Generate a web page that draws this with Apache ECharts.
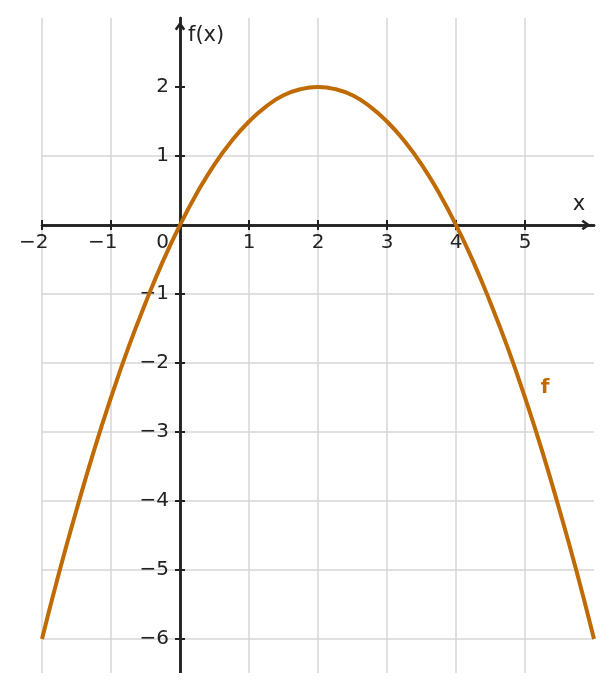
<!DOCTYPE html>
<html>
<head>
<meta charset="utf-8">
<script src="https://cdn.jsdelivr.net/npm/echarts@6/dist/echarts.min.js"></script>
<style>
  html, body { margin: 0; padding: 0; background: #fff; }
  #chart { width: 612px; height: 692px; }
</style>
</head>
<body>
<div id="chart"></div>
<script>
const xs = [-2, -1.75, -1.5, -1.25, -1, -0.75, -0.5, -0.25, 0, 0.25, 0.5, 0.75, 1, 1.25, 1.5, 1.75, 2,
  2.25, 2.5, 2.75, 3, 3.25, 3.5, 3.75, 4, 4.25, 4.5, 4.75, 5, 5.25, 5.5, 5.75, 6];
const fy = [-6, -5.03, -4.13, -3.28, -2.5, -1.78, -1.13, -0.53, 0, 0.47, 0.88, 1.22, 1.5, 1.72, 1.88, 1.97, 2,
  1.97, 1.88, 1.72, 1.5, 1.22, 0.88, 0.47, 0, -0.53, -1.13, -1.78, -2.5, -3.28, -4.13, -5.03, -6];

const xTicks = [-2, -1, 0, 1, 2, 3, 4, 5];
const yTicks = [-6, -5, -4, -3, -2, -1, 0, 1, 2];
const yLabels = [-6, -5, -4, -3, -2, -1, 1, 2];
const fLabelAt = [5.29, -2.36];

const ink = '#222222';
const curveColor = '#bf6a02';
const font = 'DejaVu Sans';
const arrow = 'path://M0,7 L5,0 L10,7 L8,8.5 L5,4 L2,8.5 Z';

// axes cross at the origin: shift them in from the grid edges
const xAxisShift = -483;
const yAxisShift = -138;

function xFmt(v) {
  if (v < 0) return '−' + (-v) + '{p|−}';
  if (v === 0) return '{z|0}';
  return String(v);
}
function yFmt(v) {
  return v < 0 ? '−' + (-v) : String(v);
}

const tickStyle = { color: ink, width: 2 };
const lineStyle = { color: ink, width: 2.5 };

const chart = echarts.init(document.getElementById('chart'));
chart.setOption({
  animation: false,
  grid: { left: 42, right: 18, top: 18, bottom: -16, outerBoundsMode: 'none', containLabel: false },
  xAxis: [
    {
      type: 'value', position: 'bottom', offset: xAxisShift, min: -2, max: 6, interval: 1,
      name: 'x', nameLocation: 'end', nameGap: -15, nameMoveOverlap: false,
      nameTextStyle: { fontFamily: font, fontSize: 21, color: ink, align: 'center', verticalAlign: 'bottom', padding: [0, 0, 10, 0] },
      axisLine: {
        onZero: false, lineStyle: lineStyle,
        symbol: ['none', arrow], symbolSize: [11, 9], symbolOffset: [0, -8]
      },
      axisTick: { show: true, inside: false, length: 5, lineStyle: tickStyle, customValues: xTicks },
      axisLabel: {
        show: true, hideOverlap: false, fontFamily: font, fontSize: 20, color: ink, margin: 8, customValues: xTicks,
        formatter: xFmt,
        rich: {
          p: { color: 'rgba(0,0,0,0)', fontFamily: font, fontSize: 20 },
          z: { fontFamily: font, fontSize: 20, color: ink, padding: [0, 35, 0, 0] }
        }
      },
      splitLine: { show: true, lineStyle: { color: '#d6d6d6', width: 1.5 } }
    },
    {
      type: 'value', position: 'bottom', offset: xAxisShift, min: -2, max: 6, interval: 1,
      axisLine: { onZero: false, lineStyle: lineStyle },
      axisTick: { show: true, inside: true, length: 5, lineStyle: tickStyle, customValues: xTicks },
      axisLabel: { show: false },
      splitLine: { show: false }
    }
  ],
  yAxis: [
    {
      type: 'value', position: 'left', offset: yAxisShift, min: -7, max: 3, interval: 1,
      name: 'f(x)', nameLocation: 'end', nameGap: -18, nameMoveOverlap: false,
      nameTextStyle: { fontFamily: font, fontSize: 21, color: ink, align: 'left', verticalAlign: 'middle', padding: [0, 0, 0, 8] },
      axisLine: {
        onZero: false, lineStyle: lineStyle,
        symbol: ['none', arrow], symbolSize: [11, 9], symbolOffset: [0, -8]
      },
      axisTick: { show: true, inside: false, length: 5, lineStyle: tickStyle, customValues: yTicks },
      axisLabel: { show: true, hideOverlap: false, fontFamily: font, fontSize: 20, color: ink, margin: 11, customValues: yLabels, formatter: yFmt },
      splitLine: { show: true, showMaxLine: false, lineStyle: { color: '#d6d6d6', width: 1.5 } }
    },
    {
      type: 'value', position: 'left', offset: yAxisShift, min: -7, max: 3, interval: 1,
      axisLine: { onZero: false, lineStyle: lineStyle },
      axisTick: { show: true, inside: true, length: 5, lineStyle: tickStyle, customValues: yTicks },
      axisLabel: { show: false },
      splitLine: { show: false }
    }
  ],
  series: [
    {
      name: 'f',
      type: 'line',
      xAxisIndex: 0, yAxisIndex: 0,
      data: xs.map((x, i) => [x, fy[i]]),
      smooth: true,
      showSymbol: false,
      lineStyle: { color: curveColor, width: 4 },
      z: 5,
      markPoint: {
        symbol: 'circle', symbolSize: 0,
        label: { show: true, position: 'inside', formatter: 'f', fontFamily: font, fontSize: 20, fontWeight: 'bold', color: curveColor },
        data: [{ coord: fLabelAt }]
      }
    }
  ],
  graphic: [
    { type: 'rect', left: 0, top: 673, shape: { width: 612, height: 19 }, style: { fill: '#fff' }, z: 100 }
  ]
});
</script>
</body>
</html>
